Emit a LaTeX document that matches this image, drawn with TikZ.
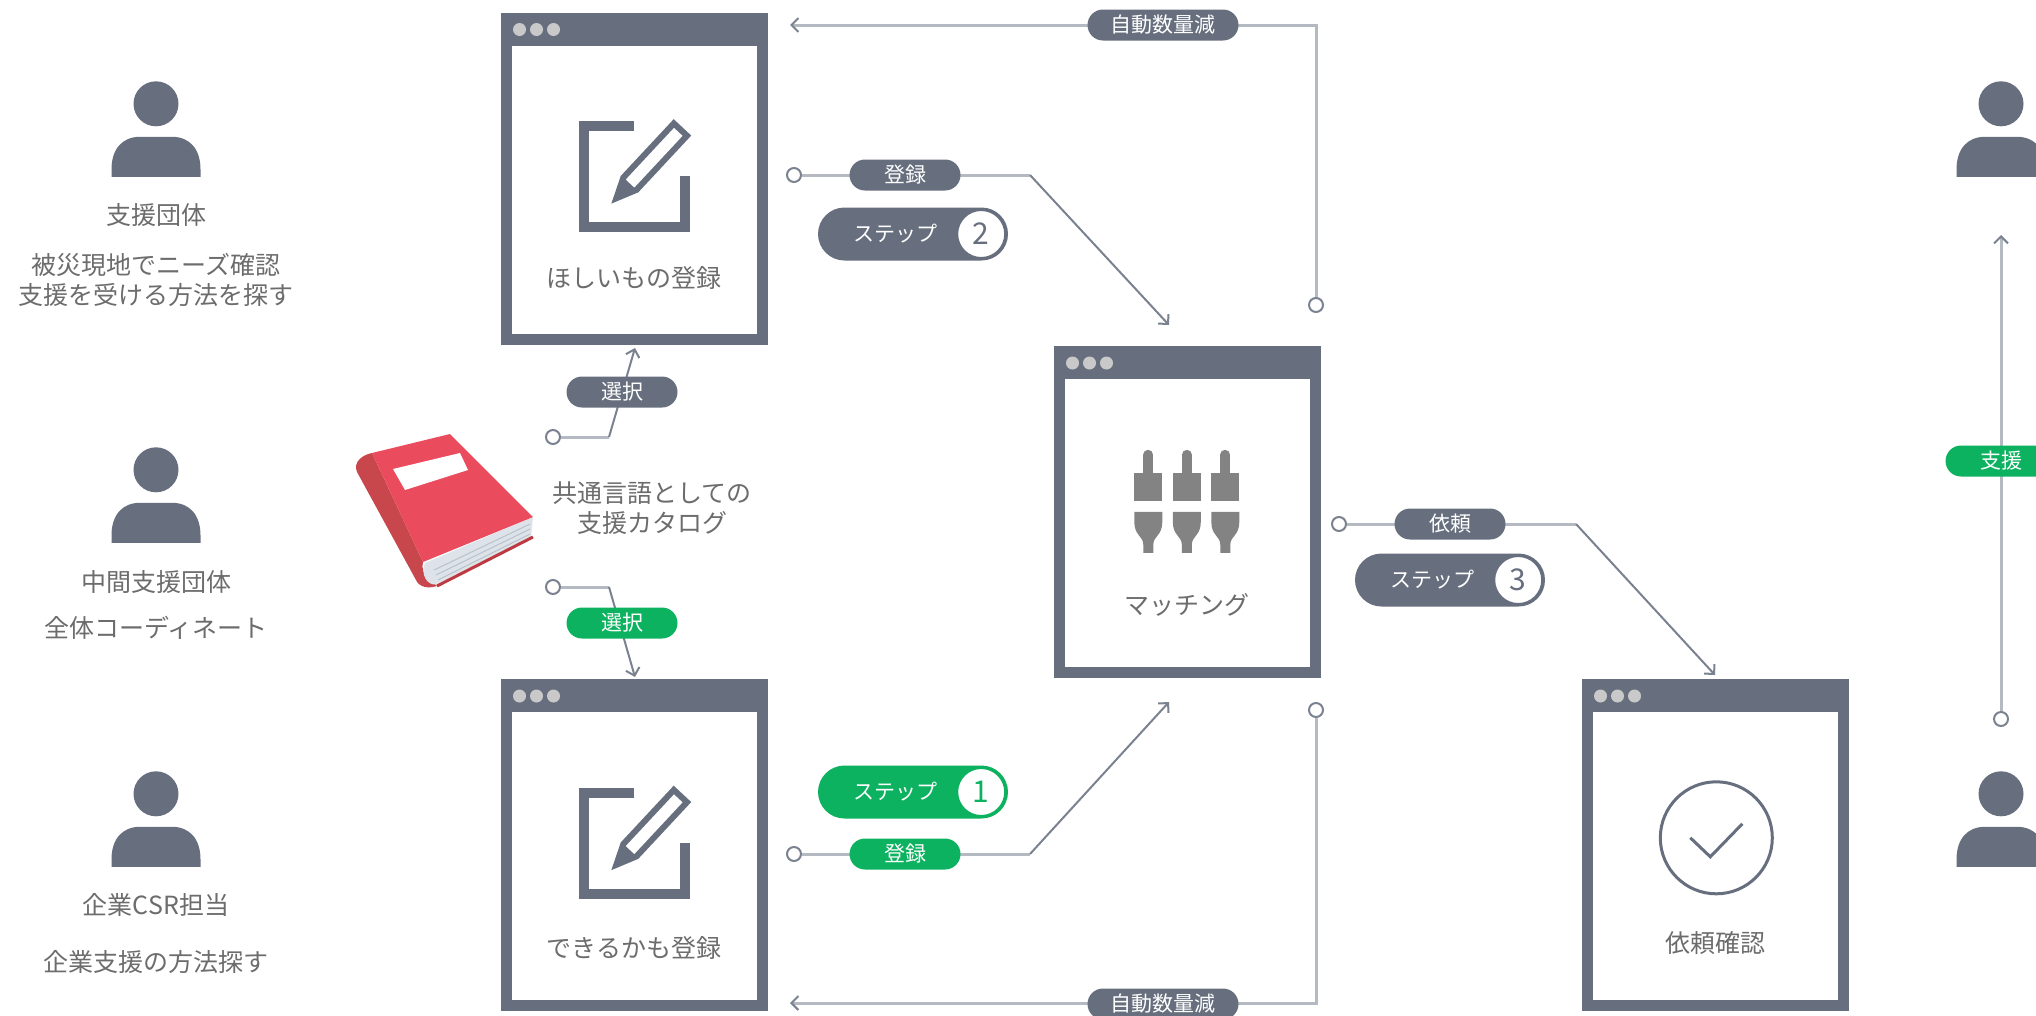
\documentclass[tikz,border=0pt]{standalone}
\usepackage{fontspec}
\setmainfont{Noto Sans CJK JP}
\usetikzlibrary{arrows.meta}

\definecolor{winc}{HTML}{676F7E}
\definecolor{pillc}{HTML}{676F7E}
\definecolor{greenc}{HTML}{0CB25F}
\definecolor{txtc}{HTML}{6C6C6C}
\definecolor{lnlight}{HTML}{B4B9C2}
\definecolor{lndark}{HTML}{7A8290}
\definecolor{portc}{HTML}{7A8290}
\definecolor{dotc}{HTML}{C9C9C9}
\definecolor{slidc}{HTML}{838383}
\definecolor{bookred}{HTML}{EA4B5D}
\definecolor{bookspine}{HTML}{C8474D}
\definecolor{bookdark}{HTML}{BE3A43}
\definecolor{pagec}{HTML}{DDE3E8}
\definecolor{pageln}{HTML}{B9C2CA}

\tikzset{
  editicon/.pic={
    \draw[winc, line width=10pt] (134,114) -- (84,114) -- (84,215) -- (185,215) -- (185,164);
    \begin{scope}[shift={(116,186)}, rotate=47]
      \draw[winc, line width=6pt, fill=white] (0,0) -- (20,-9) -- (94,-9) -- (94,9) -- (20,9) -- cycle;
      \fill[winc] (0,0) -- (20,-9) -- (20,9) -- cycle;
    \end{scope}
  },
  sliders/.pic={
    \foreach \c in {95,133.5,172} {
      \draw[slidc, line width=10pt, line cap=round] (\c,109) -- (\c,128);
      \fill[slidc] ({\c-14},127) rectangle ({\c+14},155);
      \fill[slidc] ({\c-14},166) -- ({\c+14},166) -- ({\c+14},176)
        .. controls ({\c+14},190) and ({\c+5},190) .. ({\c+5},199) -- ({\c+5},207)
        -- ({\c-5},207) -- ({\c-5},199)
        .. controls ({\c-5},190) and ({\c-14},190) .. ({\c-14},176) -- cycle;
    }
  },
  checkicon/.pic={
    \draw[winc, line width=3pt] (135,159) circle[radius=56];
    \draw[winc, line width=3pt] (109,159) -- (129,178) -- (161,145);
  },
  % person silhouette, origin at the top of the head
  personicon/.pic={
    \fill[winc] (0,22.5) circle[radius=22.5];
    \fill[winc] (-44.5,95.5) -- (-44.5,88) .. controls (-44.5,68) and (-34,55.5) .. (-16,55.5)
      -- (16,55.5) .. controls (34,55.5) and (44.5,68) .. (44.5,88) -- (44.5,95.5) -- cycle;
  },
}

\begin{document}
\begin{tikzpicture}[x=1pt, y=-1pt,
  win/.style={rectangle, fill=winc, minimum width=267pt, minimum height=332pt, inner sep=0pt,
    path picture={
      \fill[white] ([xshift=11pt,yshift=11pt]path picture bounding box.south west)
        rectangle ([xshift=-11pt,yshift=-33pt]path picture bounding box.north east);
      \foreach \k in {0,1,2}
        \fill[dotc] ([xshift={19pt+17pt*\k}, yshift=-17pt]path picture bounding box.north west) circle[radius=6.5pt];
    }},
  personbox/.style={rectangle, minimum width=90pt, minimum height=96pt, inner sep=0pt},
  plabel/.style={text=txtc, font=\fontsize{25}{30}\selectfont, align=center, inner sep=0pt},
  port/.style={circle, draw=portc, line width=2pt, fill=white, minimum size=14pt, inner sep=0pt},
  lightln/.style={draw=lnlight, line width=3pt},
  darkln/.style={draw=lndark, line width=2pt},
  arrowend/.style={-{Straight Barb[length=7pt, width=14pt, color=lndark, line width=2pt]}},
  pill/.style={rectangle, rounded corners=15.5pt, minimum width=111pt, minimum height=31pt,
    inner sep=0pt, text=white, font=\fontsize{21}{25}\selectfont},
  steppill/.style={rectangle, rounded corners=26.5pt, minimum width=190pt, minimum height=53pt, inner sep=0pt},
  stepword/.style={text=white, font=\fontsize{21}{25}\selectfont, inner sep=0pt},
  stepnum/.style={circle, fill=white, line width=2pt, minimum size=48pt, inner sep=0pt,
    font=\fontsize{30}{34}\selectfont},
]
\useasboundingbox (0,0) rectangle (2036,1015);
\clip (0,0) rectangle (2036,1015);

% ---------- application windows ----------
\node[win] (w1) at (634,178.5) {};
\node[win] (w2) at (634,845) {};
\node[win] (w3) at (1187,512) {};
\node[win] (w4) at (1715,845) {};
\pic at (w1.north west) {editicon};
\pic at (w2.north west) {editicon};
\pic at (w3.north west) {sliders};
\pic at (w4.north west) {checkicon};
\node[plabel] (w1t) at (634,278) {ほしいもの登録};
\node[plabel] (w2t) at (634,948) {できるかも登録};
\node[plabel] (w3t) at (1187,605) {マッチング};
\node[plabel] (w4t) at (1715,943) {依頼確認};

% ---------- people ----------
\node[personbox] (p1) at (156,129.5) {};
\node[personbox] (p2) at (156,495.5) {};
\node[personbox] (p3) at (156,819.5) {};
\node[personbox] (pr1) at (2001,129.5) {};
\node[personbox] (pr2) at (2001,819.5) {};
\foreach \p in {p1,p2,p3,pr1,pr2}
  \pic at (\p.north) {personicon};
\node[plabel] (p1a) at (156,215) {支援団体};
\node[plabel] (p1b) at (156,280) {被災現地でニーズ確認\\支援を受ける方法を探す};
\node[plabel] (p2a) at (156,582) {中間支援団体};
\node[plabel] (p2b) at (156,628) {全体コーディネート};
\node[plabel] (p3a) at (156,905) {企業CSR担当};
\node[plabel] (p3b) at (156,962) {企業支援の方法探す};

% ---------- catalogue book ----------
\fill[bookspine] (372,453) .. controls (362,455) and (353,462) .. (357,472) -- (416,580)
  .. controls (419,587) and (428,589) .. (437,586) -- (430,580)
  .. controls (424,575) and (421,568) .. (423,562) -- cycle;
\fill[pagec] (533,517) -- (531,538) -- (437,584) .. controls (427,587) and (420,573) .. (425,563) -- cycle;
\draw[pageln, line width=1pt] (530,524) -- (434,570);
\draw[pageln, line width=1pt] (530,529) -- (436,575);
\draw[pageln, line width=1pt] (530,534) -- (438,580);
\draw[bookdark, line width=3pt] (533,537) -- (437,586);
\fill[bookred] (372,453) -- (450,434) -- (533,517) -- (423,562) -- cycle;
\fill[white] (393,469) -- (460,453) -- (468,470) -- (405,490) -- cycle;
\node[plabel] (cat) at (652,508.5) {共通言語としての\\支援カタログ};

% ---------- connectors ----------
\node[port] (c1) at (1316,305) {};
\node[port] (c2) at (1316,710) {};
\node[port] (c3) at (794,175) {};
\node[port] (c4) at (794,854) {};
\node[port] (c5) at (1339,524) {};
\node[port] (c6) at (553,437) {};
\node[port] (c7) at (553,587) {};
\node[port] (c8) at (2001,719) {};

\coordinate (a1) at (790,25);
\coordinate (a2) at (790,1003);
\coordinate (k3) at (1030,175);
\coordinate (a3) at (1169,325);
\coordinate (k4) at (1030,854);
\coordinate (a4) at (1169,702);
\coordinate (k5) at (1576,524);
\coordinate (a5) at (1715,675);
\coordinate (k6) at (609,437);
\coordinate (a6) at (635,348);
\coordinate (k7) at (609,587);
\coordinate (a7) at (635,677);
\coordinate (a8) at (2001,235);

\draw[lightln, arrowend] (c1) |- (a1);
\draw[lightln, arrowend] (c2) |- (a2);
\draw[lightln] (c3) -- (k3);
\draw[darkln, arrowend] (k3) -- (a3);
\draw[lightln] (c4) -- (k4);
\draw[darkln, arrowend] (k4) -- (a4);
\draw[lightln] (c5) -- (k5);
\draw[darkln, arrowend] (k5) -- (a5);
\draw[lightln] (c6) -- (k6);
\draw[darkln, arrowend] (k6) -- (a6);
\draw[lightln] (c7) -- (k7);
\draw[darkln, arrowend] (k7) -- (a7);
\draw[lightln, arrowend] (c8) -- (a8);

% ---------- connector labels ----------
\node[pill, fill=pillc, minimum width=151pt] (l1) at (1163,25) {自動数量減};
\node[pill, fill=pillc, minimum width=151pt] (l2) at (1163,1004) {自動数量減};
\node[pill, fill=pillc] (l3) at (905,175) {登録};
\node[pill, fill=greenc] (l4) at (905,854) {登録};
\node[pill, fill=pillc] (l5) at (1450,524) {依頼};
\node[pill, fill=pillc] (l6) at (622,392) {選択};
\node[pill, fill=greenc] (l7) at (622,623) {選択};
\node[pill, fill=greenc] (l8) at (2001,461) {支援};

% ---------- step badges ----------
\node[steppill, fill=greenc] (s1) at (913,792) {};
\node[stepword] (s1w) at ([xshift=-18pt]s1.center) {ステップ};
\node[stepnum, draw=greenc, text=greenc] (s1n) at ([xshift=-27pt]s1.east) {1};

\node[steppill, fill=pillc] (s2) at (913,234) {};
\node[stepword] (s2w) at ([xshift=-18pt]s2.center) {ステップ};
\node[stepnum, draw=pillc, text=pillc] (s2n) at ([xshift=-27pt]s2.east) {2};

\node[steppill, fill=pillc] (s3) at (1450,580) {};
\node[stepword] (s3w) at ([xshift=-18pt]s3.center) {ステップ};
\node[stepnum, draw=pillc, text=pillc] (s3n) at ([xshift=-27pt]s3.east) {3};
\end{tikzpicture}
\end{document}
